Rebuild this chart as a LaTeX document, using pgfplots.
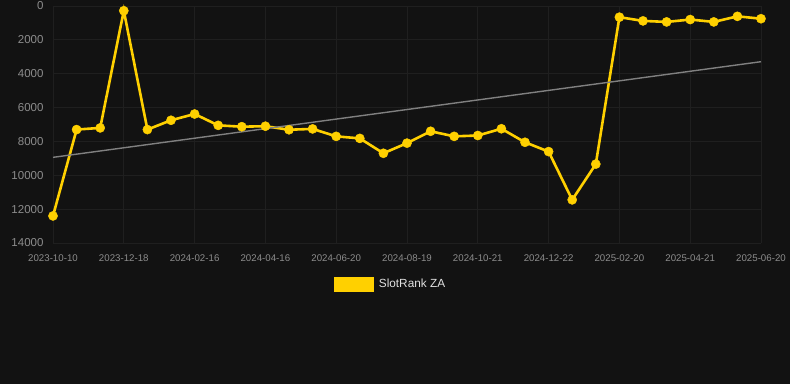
\documentclass[border=0pt]{standalone}
\usepackage{fontspec}
\setmainfont{Liberation Sans}
\usepackage{pgfplots}
\pgfplotsset{compat=1.18}
\definecolor{bg}{HTML}{121212}
\definecolor{gridc}{HTML}{1F1F1F}
\definecolor{gold}{HTML}{FFD000}
\definecolor{trend}{HTML}{808080}
\definecolor{ticktext}{HTML}{8C8C8C}
\begin{document}
\begin{tikzpicture}[x=1pt,y=1pt]
\fill[bg] (0,0) rectangle (790,384);
\useasboundingbox (0,0) rectangle (790,384);
\begin{axis}[
  at={(53pt,141pt)}, anchor=south west,
  scale only axis, width=708pt, height=237pt,
  xmin=0, xmax=30, ymin=0, ymax=14000,
  y dir=reverse,
  axis line style={draw=none},
  xtick={0,3,...,30},
  xticklabels={2023-10-10,2023-12-18,2024-02-16,2024-04-16,2024-06-20,2024-08-19,2024-10-21,2024-12-22,2025-02-20,2025-04-21,2025-06-20},
  ytick={0,2000,...,14000},
  scaled y ticks=false,
  grid=major,
  major grid style={gridc, line width=0.8pt},
  major tick length=0pt,
  /pgf/number format/assume math mode=true,
  /pgf/number format/1000 sep={},
  yticklabel style={font=\fontsize{11.5}{12}\selectfont, text=ticktext, xshift=-6pt},
  xticklabel style={font=\fontsize{9.7}{10}\selectfont, text=ticktext, yshift=-8pt},
  clip=false,
  legend style={at={(0.477,-0.134)}, anchor=north, draw=none, fill=none,
    text=white!88!black, font=\fontsize{11.8}{12}\selectfont},
  legend image code/.code={\fill[gold] (0pt,-6pt) rectangle (37pt,6pt); \path (40pt,0pt);},
]
\addplot[gold, line width=2.6pt, mark=*, mark size=4.6pt, mark options={solid, fill=gold, draw=gold, line width=0.4pt}]
coordinates {
(0,12400) (1,7300) (2,7200) (3,280) (4,7300) (5,6750) (6,6380) (7,7050)
(8,7130) (9,7100) (10,7310) (11,7260) (12,7700) (13,7820) (14,8700)
(15,8100) (16,7400) (17,7700) (18,7650) (19,7250) (20,8050) (21,8600)
(22,11450) (23,9340) (24,660) (25,880) (26,940) (27,800) (28,940)
(29,610) (30,750)
};
\addlegendentry{SlotRank ZA}
\addplot[trend, line width=1.4pt, forget plot] coordinates {(0,8940) (30,3290)};
\end{axis}
\end{tikzpicture}
\end{document}
